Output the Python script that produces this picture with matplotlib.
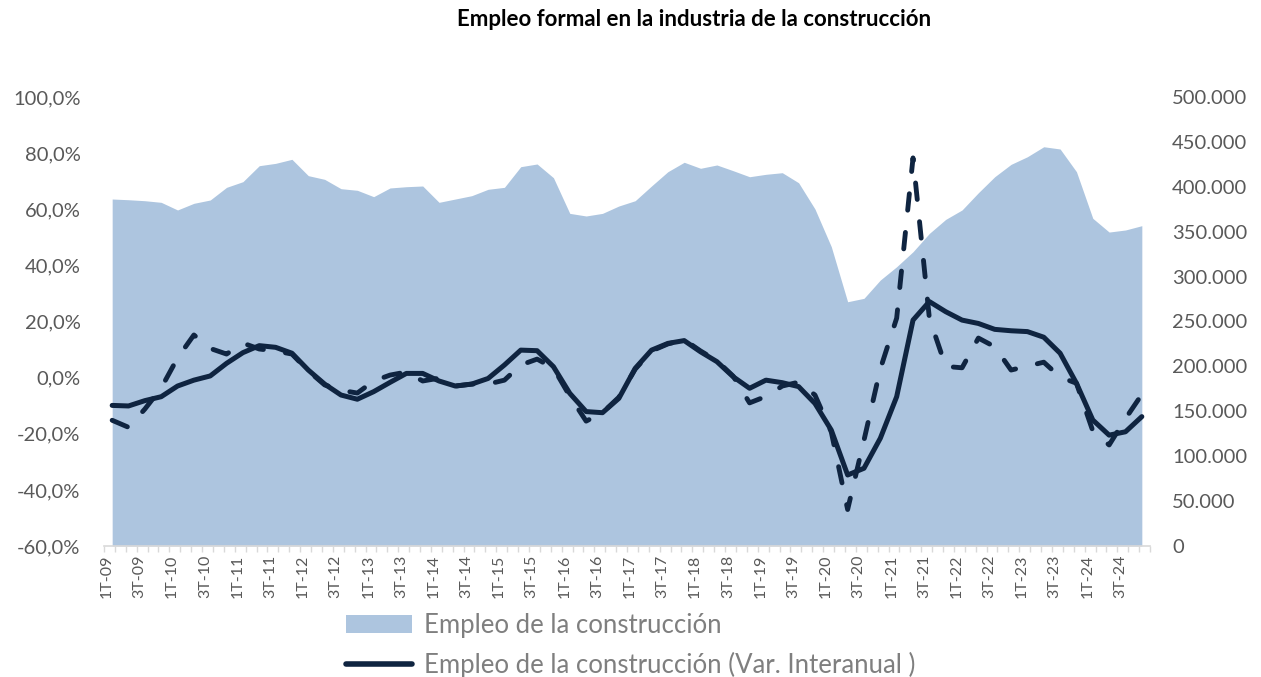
import matplotlib
matplotlib.use('Agg')
import matplotlib.pyplot as plt
from matplotlib.patches import Patch
from matplotlib.lines import Line2D
from matplotlib.ticker import FixedLocator, FuncFormatter
import numpy as np

# ---------------- data (quarterly, 1T-09 .. 4T-24) ----------------
tick_labels = ['1T-09', '3T-09', '1T-10', '3T-10', '1T-11', '3T-11', '1T-12', '3T-12',
               '1T-13', '3T-13', '1T-14', '3T-14', '1T-15', '3T-15', '1T-16', '3T-16',
               '1T-17', '3T-17', '1T-18', '3T-18', '1T-19', '3T-19', '1T-20', '3T-20',
               '1T-21', '3T-21', '1T-22', '3T-22', '1T-23', '3T-23', '1T-24', '3T-24']

empleo = [386400, 385600, 384500, 382700, 374200, 381600, 385300, 399400,
          405700, 423500, 426100, 430600, 412400, 408300, 397900, 396100,
          389000, 398700, 400100, 400900, 382700, 386400, 390100, 397200,
          399400, 422400, 425400, 410100, 370400, 367500, 370400, 378600,
          384500, 400900, 416800, 427300, 420600, 424300, 417900, 411200,
          413900, 415700, 404500, 375300, 333300, 272000, 275800, 296200,
          311000, 327700, 348100, 363700, 374200, 393400, 411200, 425000,
          433500, 444600, 442100, 416800, 364900, 349600, 351900, 356700]

var_interanual = [-9.9, -10.1, -8.2, -6.8, -3.0, -0.9, 0.6, 5.1,
                  8.9, 11.4, 10.8, 8.7, 2.7, -2.3, -6.2, -7.7,
                  -5.0, -1.7, 1.5, 1.5, -1.2, -3.0, -2.3, -0.3,
                  4.5, 9.8, 9.6, 3.9, -5.6, -12.1, -12.5, -7.4,
                  3.3, 9.8, 12.2, 13.2, 9.2, 5.7, 0.3, -3.8,
                  -0.9, -1.8, -3.2, -9.2, -18.7, -34.7, -32.3, -21.6,
                  -6.8, 20.5, 27.1, 23.5, 20.5, 19.3, 17.2, 16.7,
                  16.4, 14.4, 8.7, -2.0, -15.1, -20.5, -19.3, -13.9]

var_serie_2 = [-15.2, -17.7, -11.2, -3.7, 7.0, 15.2, 10.4, 8.4,
               12.3, 10.2, 9.5, 8.4, 2.4, -2.6, -4.5, -5.5,
               -1.2, 0.9, 2.0, -1.2, -0.2, -3.0, -2.3, -2.3,
               -0.9, 4.5, 6.6, 3.4, -6.6, -15.5, -12.5, -7.0,
               3.0, 9.5, 12.0, 13.5, 9.5, 6.0, 0.5, -9.0,
               -6.7, -3.0, -1.6, -6.2, -19.4, -47.0, -22.3, 3.1,
               21.2, 78.3, 21.2, 4.0, 3.5, 14.1, 11.0, 2.7,
               4.1, 5.5, 0.2, -2.0, -19.0, -24.0, -14.6, -6.0]

title = 'Empleo formal en la industria de la construcción'
legend_labels = ['Empleo de la construcción',
                 'Empleo de la construcción (Var. Interanual )']

# ---------------- styling ----------------
AREA = '#ADC5DF'
NAVY = '#0F2440'
TICK = '#595959'
LEG = '#7F7F7F'
AXIS = '#D9D9D9'
FONT = ['Lato', 'DejaVu Sans']
plt.rcParams['font.family'] = FONT

fig = plt.figure(figsize=(12.61, 6.77), dpi=100)
ax = fig.add_axes([104 / 1261, 1 - 546 / 677, (1150 - 104) / 1261, (546 - 97) / 677])
ax2 = ax.twinx()
ax.set_zorder(ax2.get_zorder() + 1)
ax.patch.set_visible(False)

x = np.arange(len(empleo))

ax2.fill_between(x, 0, empleo, color=AREA, linewidth=0)
ax2.set_ylim(0, 500000)
ax2.set_yticks(np.arange(0, 500001, 50000))
ax2.yaxis.set_major_formatter(FuncFormatter(
    lambda v, p: '0' if v == 0 else f'{int(round(v)):,}'.replace(',', '.')))
ax2.tick_params(axis='y', length=0, labelsize=14.5, labelcolor=TICK, pad=16)

ax.plot(x, var_serie_2, color=NAVY, lw=3.5, linestyle=(0, (3.4, 4.6)),
        dash_capstyle='round', solid_joinstyle='round')
ax.plot(x, var_interanual, color=NAVY, lw=3.6, solid_capstyle='round',
        solid_joinstyle='round')
ax.set_ylim(-60, 100)
ax.set_yticks(np.arange(-60, 101, 20))
ax.yaxis.set_major_formatter(FuncFormatter(lambda v, p: f'{v:.1f}%'.replace('.', ',')))
ax.tick_params(axis='y', length=0, labelsize=14.5, labelcolor=TICK, pad=17)

ax.set_xlim(-0.5, len(empleo) - 0.5)
label_pos = np.arange(0, len(empleo), 2) - 1 / 3
ax.xaxis.set_major_locator(FixedLocator(label_pos))
ax.set_xticklabels(tick_labels, rotation=90)
ax.xaxis.set_minor_locator(FixedLocator(-0.5 + np.arange(0, 97) * 2 / 3))
ax.tick_params(axis='x', which='major', length=0, labelsize=11.5, labelcolor=TICK, pad=6)
ax.tick_params(axis='x', which='minor', length=4, width=1, color=AXIS)

for a in (ax, ax2):
    for s in ('left', 'right', 'top'):
        a.spines[s].set_visible(False)
ax2.spines['bottom'].set_visible(False)
ax.spines['bottom'].set_color(AXIS)
ax.spines['bottom'].set_linewidth(1.2)

fig.text(694 / 1261, 1 - 20 / 677, title, ha='center', va='center',
         fontsize=16, fontweight='bold', color='black')

handles = [Patch(facecolor=AREA, edgecolor='none'),
           Line2D([0], [0], color=NAVY, lw=4, solid_capstyle='round')]
leg = fig.legend(handles, legend_labels, loc='upper left',
                 bbox_to_anchor=(346 / 1261, 1 - 613 / 677),
                 frameon=False, fontsize=18.5, handlelength=2.55, handleheight=0.68,
                 handletextpad=0.47, labelspacing=0.55, borderpad=0, borderaxespad=0)
for t in leg.get_texts():
    t.set_color(LEG)

fig.savefig('out.png', dpi=100)
